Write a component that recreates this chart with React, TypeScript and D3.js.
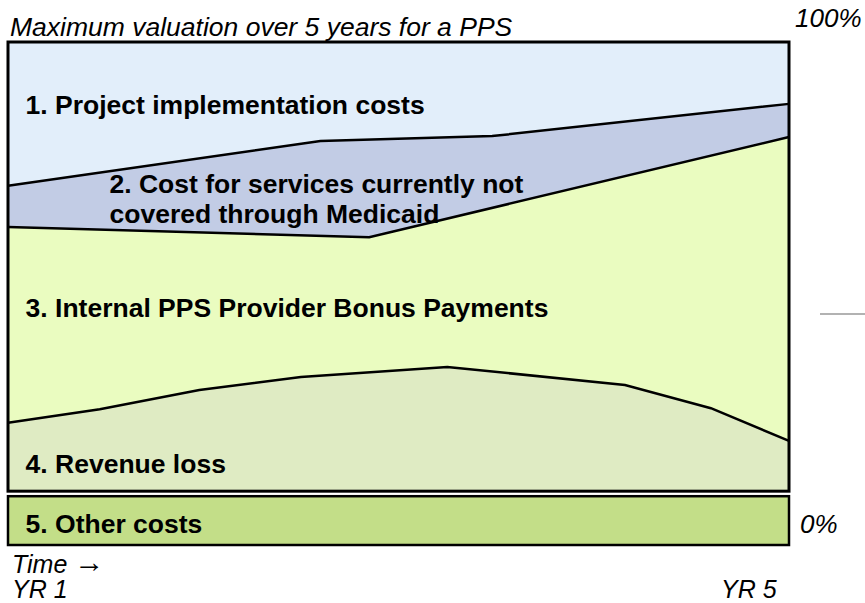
import * as d3 from "d3";

// boundaries between layers (percent of full height)
const line1 = [
  { yr: 1, pct: 71.4 },
  { yr: 2.6, pct: 80.3 },
  { yr: 3.48, pct: 81.3 },
  { yr: 5, pct: 87.7 },
];
const line2 = [
  { yr: 1, pct: 63.2 },
  { yr: 2.85, pct: 61.2 },
  { yr: 5, pct: 81.1 },
];
const line3 = [
  { yr: 1, pct: 24.3 },
  { yr: 1.47, pct: 27.0 },
  { yr: 1.98, pct: 30.8 },
  { yr: 2.5, pct: 33.4 },
  { yr: 3.25, pct: 35.4 },
  { yr: 4.16, pct: 31.8 },
  { yr: 4.6, pct: 27.2 },
  { yr: 5, pct: 20.7 },
];
const topLine = [{ yr: 1, pct: 100 }, { yr: 5, pct: 100 }];
const baseLine = [{ yr: 1, pct: 10.7 }, { yr: 5, pct: 10.7 }];
const otherTop = 9.7;

const layers = [
  { name: "1. Project implementation costs", upper: topLine, lower: line1, color: "#e2eefa" },
  { name: "2. Cost for services currently not covered through Medicaid", upper: line1, lower: line2, color: "#c2cce5" },
  { name: "3. Internal PPS Provider Bonus Payments", upper: line2, lower: line3, color: "#eafcc0" },
  { name: "4. Revenue loss", upper: line3, lower: baseLine, color: "#dfebc3" },
];

const labels = [
  { lines: ["1. Project implementation costs"], yr: 1.09, pct: 85.7 },
  { lines: ["2. Cost for services currently not", "covered through Medicaid"], yr: 1.52, pct: 70.0 },
  { lines: ["3. Internal PPS Provider Bonus Payments"], yr: 1.09, pct: 45.3 },
  { lines: ["4. Revenue loss"], yr: 1.09, pct: 14.3 },
  { lines: ["5. Other costs"], yr: 1.09, pct: 2.4 },
];

type Pt = { yr: number; pct: number };

export default function App() {
  const width = 865;
  const height = 603;
  const x = d3.scaleLinear().domain([1, 5]).range([8, 789]);
  const y = d3.scaleLinear().domain([0, 100]).range([545, 42]);
  const line = d3
    .line<Pt>()
    .x((d) => x(d.yr))
    .y((d) => y(d.pct));

  const poly = (upper: Pt[], lower: Pt[]) =>
    line([...upper, ...lower.slice().reverse()]) + "Z";

  const font = "Arial, 'Liberation Sans', sans-serif";

  return (
    <svg
      width={width}
      height={height}
      style={{ position: "absolute", left: 0, top: 0, fontFamily: font }}
    >
      {layers.map((l) => (
        <path key={l.name} d={poly(l.upper, l.lower)} fill={l.color} stroke="none" />
      ))}
      {[line1, line2, line3].map((l, i) => (
        <path key={i} d={line(l) || ""} fill="none" stroke="#000" strokeWidth={2.5} />
      ))}
      <rect
        x={x(1)}
        y={y(100)}
        width={x(5) - x(1)}
        height={y(baseLine[0].pct) - y(100)}
        fill="none"
        stroke="#000"
        strokeWidth={3}
      />
      <rect
        x={x(1)}
        y={y(otherTop)}
        width={x(5) - x(1)}
        height={y(0) - y(otherTop)}
        fill="#c3de88"
        stroke="#000"
        strokeWidth={2.5}
      />
      <line x1={820} x2={865} y1={314} y2={314} stroke="#999" strokeWidth={1.5} />

      {labels.map((lb) =>
        lb.lines.map((t, i) => (
          <text
            key={t}
            x={x(lb.yr)}
            y={y(lb.pct) + i * 30}
            fontSize={26.5}
            fontWeight="bold"
            fill="#000"
          >
            {t}
          </text>
        ))
      )}

      <text x={10} y={36} fontSize={26.5} fontStyle="italic">
        Maximum valuation over 5 years for a PPS
      </text>
      <text x={795} y={27} fontSize={26} fontStyle="italic">
        100%
      </text>
      <text x={800} y={533} fontSize={26} fontStyle="italic">
        0%
      </text>
      <text x={12} y={573} fontSize={25} fontStyle="italic">
        Time <tspan fontSize={30} fontStyle="normal" dy={-1}>{"\u2192"}</tspan>
      </text>
      <text x={12} y={598} fontSize={25} fontStyle="italic">
        YR 1
      </text>
      <text x={721} y={598} fontSize={25} fontStyle="italic">
        YR 5
      </text>
    </svg>
  );
}
